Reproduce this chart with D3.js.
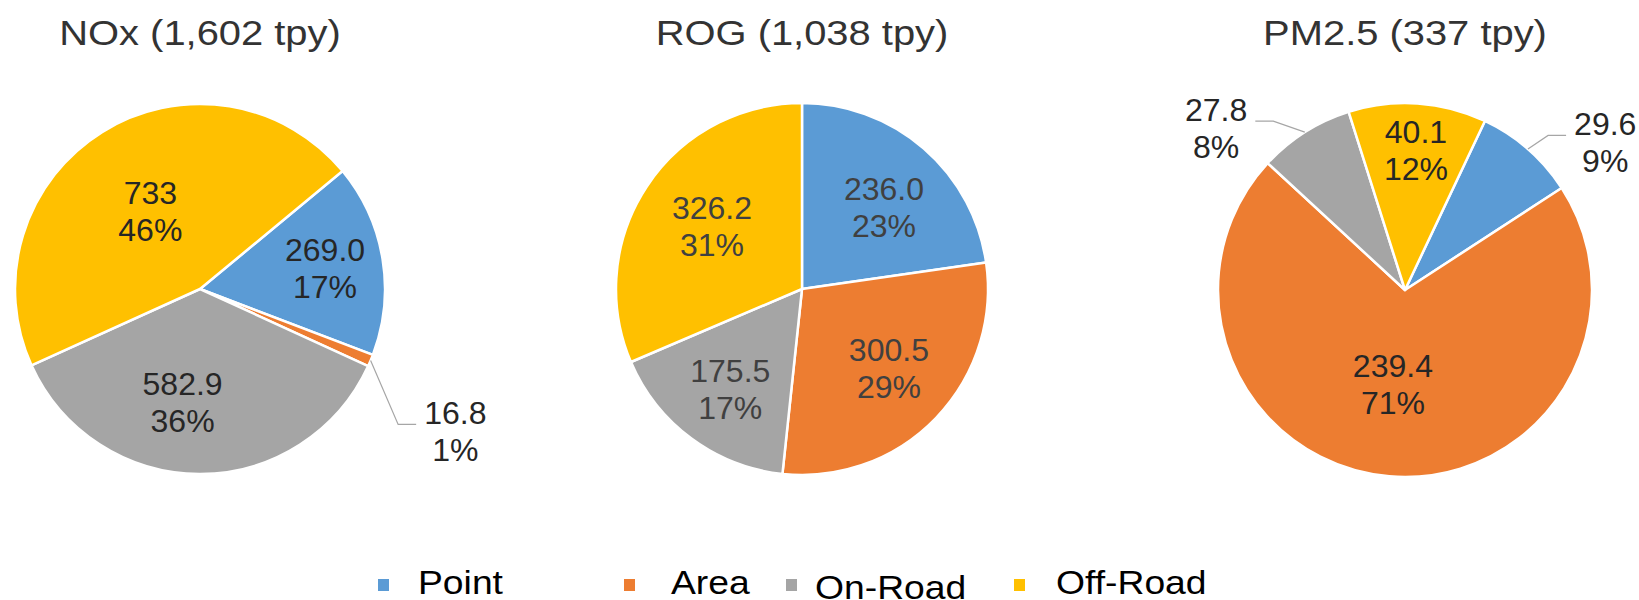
<!DOCTYPE html>
<html>
<head>
<meta charset="utf-8">
<script src="https://cdn.jsdelivr.net/npm/d3@7"></script>
<style>
  html, body { margin: 0; padding: 0; background: #fff; }
  svg { display: block; font-family: "Liberation Sans", Arial, sans-serif; }
</style>
</head>
<body>
<svg id="chart" width="1639" height="600"></svg>
<script>
// ---------------- data ----------------
const categories = ["Point", "Area", "On-Road", "Off-Road"];
const titles = ["NOx (1,602 tpy)", "ROG (1,038 tpy)", "PM2.5 (337 tpy)"];
const noxValues = [269.0, 16.8, 582.9, 733];
const rogValues = [236.0, 300.5, 175.5, 326.2];
const pmValues  = [29.6, 239.4, 27.8, 40.1];
const noxValueText = ["269.0", "16.8", "582.9", "733"];
const rogValueText = ["236.0", "300.5", "175.5", "326.2"];
const pmValueText  = ["29.6", "239.4", "27.8", "40.1"];

// ---------------- style / layout ----------------
const colors = ["#5B9BD5", "#ED7D31", "#A5A5A5", "#FFC000"];
const charts = [
  { title: titles[0], values: noxValues, text: noxValueText, cx: 200, cy: 289, r: 185, start: 50.4, labelColor: "#262626",
    // [radius fraction, angle nudge (deg), outside?]
    place: [[0.685, 0, false], [1.58, 6.4, true], [0.62, 8.6, false], [0.50, -0.5, false]] },
  { title: titles[1], values: rogValues, text: rogValueText, cx: 802, cy: 289, r: 186, start: 0, labelColor: "#404040",
    place: [[0.625, 3.9, false], [0.63, -1.8, false], [0.66, -0.7, false], [0.59, 1.4, false]] },
  { title: titles[2], values: pmValues, text: pmValueText, cx: 1405, cy: 290, r: 187, start: 25.3, labelColor: "#262626",
    place: [[1.33, 12.5, true], [0.507, 2.5, false], [1.33, -17, true], [0.75, 0.6, false]] }
];
const labelFont = 32, lineGap = 37;
const titleFont = 35, titleScaleX = 1.14, titleBaseline = 45;
const legendFont = 33, legendScaleX = 1.13, legendBaseline = 594;
const legendMarkerX = [378, 624, 786, 1014];
const legendTextX = [418, 671, 815, 1056];
const legendDy = [0, 0, 5, 0];

const svg = d3.select("#chart");
const rad = d => d * Math.PI / 180;
const polar = (a, rr) => [rr * Math.sin(a), -rr * Math.cos(a)];
const pctFmt = d3.format(".0%");

charts.forEach(c => {
  const total = d3.sum(c.values);
  const data = c.values.map((v, i) => ({ v, i, cat: categories[i], text: c.text[i] }));
  const pie = d3.pie().sort(null).value(d => d.v)
    .startAngle(rad(c.start)).endAngle(rad(c.start) + 2 * Math.PI);
  const arc = d3.arc().innerRadius(0).outerRadius(c.r);
  const arcs = pie(data);
  const g = svg.append("g").attr("transform", `translate(${c.cx},${c.cy})`);

  g.selectAll("path.slice").data(arcs).join("path")
    .attr("class", "slice")
    .attr("d", arc)
    .attr("fill", d => colors[d.data.i])
    .attr("stroke", "#fff")
    .attr("stroke-width", 2.5)
    .attr("stroke-linejoin", "round");

  // title
  svg.append("text")
    .attr("transform", `translate(${c.cx},${titleBaseline}) scale(${titleScaleX},1)`)
    .attr("text-anchor", "middle")
    .attr("font-size", titleFont)
    .attr("fill", "#333")
    .text(c.title);

  arcs.forEach(d => {
    const [rf, nudge, outside] = c.place[d.data.i];
    const mid = (d.startAngle + d.endAngle) / 2;
    const [lx, ly] = polar(mid + rad(nudge), rf * c.r);
    const t = g.append("text")
      .attr("text-anchor", "middle")
      .attr("font-size", labelFont)
      .attr("fill", c.labelColor);
    t.append("tspan").attr("x", lx).attr("y", ly - lineGap / 2 + labelFont * 0.358).text(d.data.text);
    t.append("tspan").attr("x", lx).attr("y", ly + lineGap / 2 + labelFont * 0.358).text(pctFmt(d.data.v / total));
    if (outside) {
      const halfW = t.node().getBBox().width / 2;
      const p0 = polar(mid, c.r);
      const side = p0[0] < lx ? -1 : 1; // label is to the right -> line ends on its left
      const endX = lx + side * (halfW + 8);
      const yL = ly - 7;
      const elbowX = endX + side * 18;
      g.append("path")
        .attr("d", d3.line()([p0, [elbowX, yL], [endX, yL]]))
        .attr("fill", "none")
        .attr("stroke", "#A6A6A6")
        .attr("stroke-width", 1.2);
    }
  });
});

// legend
const lg = svg.append("g");
categories.forEach((cat, i) => {
  lg.append("rect")
    .attr("x", legendMarkerX[i]).attr("y", legendBaseline - 15)
    .attr("width", 11).attr("height", 12)
    .attr("fill", colors[i]);
  lg.append("text")
    .attr("transform", `translate(${legendTextX[i]},${legendBaseline + legendDy[i]}) scale(${legendScaleX},1)`)
    .attr("font-size", legendFont)
    .attr("fill", "#000")
    .text(cat);
});
</script>
</body>
</html>
